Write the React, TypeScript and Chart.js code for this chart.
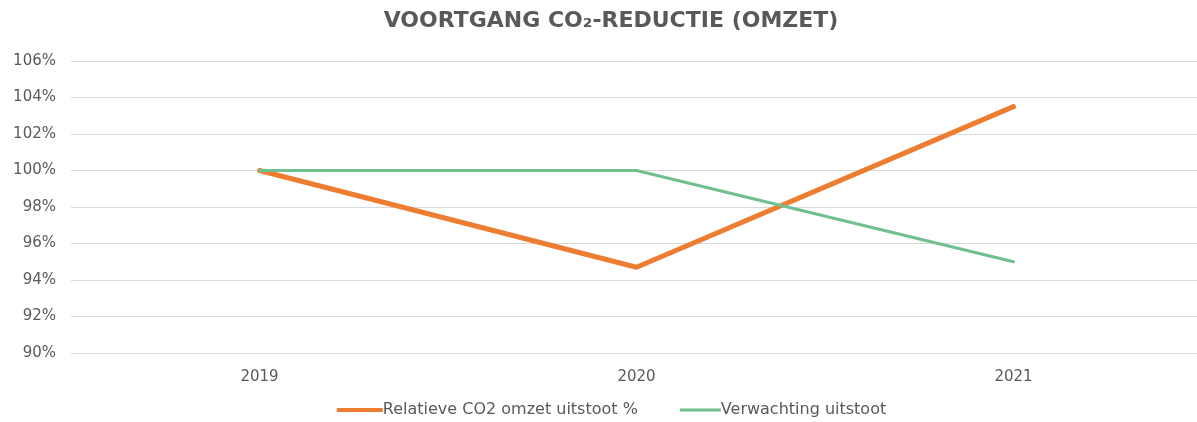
import React, { useEffect, useRef } from 'react';
import { Chart, registerables } from 'chart.js';

Chart.register(...registerables);

const titleText = 'VOORTGANG CO₂-REDUCTIE (OMZET)';
const categories = ['2019', '2020', '2021'];
const relatieveUitstoot = [100, 94.7, 103.5];
const verwachtingUitstoot = [100, 100, 95];
const seriesLabels = ['Relatieve CO2 omzet uitstoot %', 'Verwachting uitstoot'];
const seriesColors = ['#ED7D31', '#71BF8E'];
const yMin = 90;
const yMax = 106;
const yStep = 2;

const CANVAS_W = 1202;
const CANVAS_H = 422;
const TEXT_COLOR = '#595959';
const FONT_FAMILY = '"DejaVu Sans", Verdana, sans-serif';

const titleLegendPlugin = {
  id: 'xlTitleLegend',
  afterDraw(chart: any) {
    const ctx = chart.ctx as CanvasRenderingContext2D;
    ctx.save();
    // title
    ctx.font = `bold 22px ${FONT_FAMILY}`;
    ctx.fillStyle = TEXT_COLOR;
    ctx.textBaseline = 'middle';
    ctx.textAlign = 'center';
    ctx.fillText(titleText, 611, 21);

    // legend
    ctx.font = `16px ${FONT_FAMILY}`;
    ctx.textAlign = 'left';
    const sampleWs = [46, 41];
    const sampleLws = [4, 3];
    const itemGap = 42;
    const items = chart.data.datasets.map((ds: any, i: number) => ({
      text: ds.label as string,
      color: ds.borderColor as string,
      lw: sampleLws[i] ?? 3,
      sw: sampleWs[i] ?? 40,
      w: ctx.measureText(ds.label).width,
    }));
    const total =
      items.reduce((s: number, it: any) => s + it.sw + it.w, 0) + itemGap * (items.length - 1);
    let x = 611.5 - total / 2;
    const y = 410;
    for (const it of items) {
      ctx.strokeStyle = it.color;
      ctx.lineWidth = it.lw;
      ctx.lineCap = 'butt';
      ctx.beginPath();
      ctx.moveTo(x, y);
      ctx.lineTo(x + it.sw, y);
      ctx.stroke();
      x += it.sw;
      ctx.fillStyle = TEXT_COLOR;
      ctx.fillText(it.text, x, y);
      x += it.w + itemGap;
    }
    ctx.restore();
  },
};

export default function App() {
  const ref = useRef<HTMLCanvasElement>(null);
  useEffect(() => {
    if (!ref.current) return;
    const chart = new Chart(ref.current, {
      type: 'line',
      data: {
        labels: categories,
        datasets: [
          {
            label: seriesLabels[0],
            data: relatieveUitstoot,
            borderColor: seriesColors[0],
            backgroundColor: seriesColors[0],
            borderWidth: 5,
            pointRadius: 0,
            tension: 0,
            borderCapStyle: 'round',
            borderJoinStyle: 'round',
            order: 2,
          },
          {
            label: seriesLabels[1],
            data: verwachtingUitstoot,
            borderColor: seriesColors[1],
            backgroundColor: seriesColors[1],
            borderWidth: 3,
            pointRadius: 0,
            tension: 0,
            borderCapStyle: 'round',
            borderJoinStyle: 'round',
            order: 1,
          },
        ],
      },
      options: {
        responsive: false,
        animation: false,
        layout: { padding: { left: 0, right: 0, top: 61, bottom: 21 } },
        plugins: {
          legend: { display: false },
          tooltip: { enabled: false },
          title: { display: false },
        },
        scales: {
          x: {
            offset: true,
            grid: { display: false, drawTicks: false },
            border: { display: false },
            ticks: {
              color: TEXT_COLOR,
              padding: 15,
              font: { family: FONT_FAMILY, size: 15 },
            },
          },
          y: {
            min: yMin,
            max: yMax,
            grid: { color: '#d9d9d9', lineWidth: 1, drawTicks: false },
            border: { display: false },
            afterFit: (scale: any) => {
              scale.width = 71;
            },
            ticks: {
              stepSize: yStep,
              color: TEXT_COLOR,
              padding: 15,
              font: { family: FONT_FAMILY, size: 15 },
              callback: (v: any) => `${v}%`,
            },
          },
        },
      },
      plugins: [titleLegendPlugin],
    });
    return () => chart.destroy();
  }, []);
  return (
    <div style={{ position: 'fixed', left: 0, top: 0, width: CANVAS_W, height: CANVAS_H, background: '#fff' }}>
      <canvas ref={ref} width={CANVAS_W} height={CANVAS_H} style={{ display: 'block' }} />
    </div>
  );
}
